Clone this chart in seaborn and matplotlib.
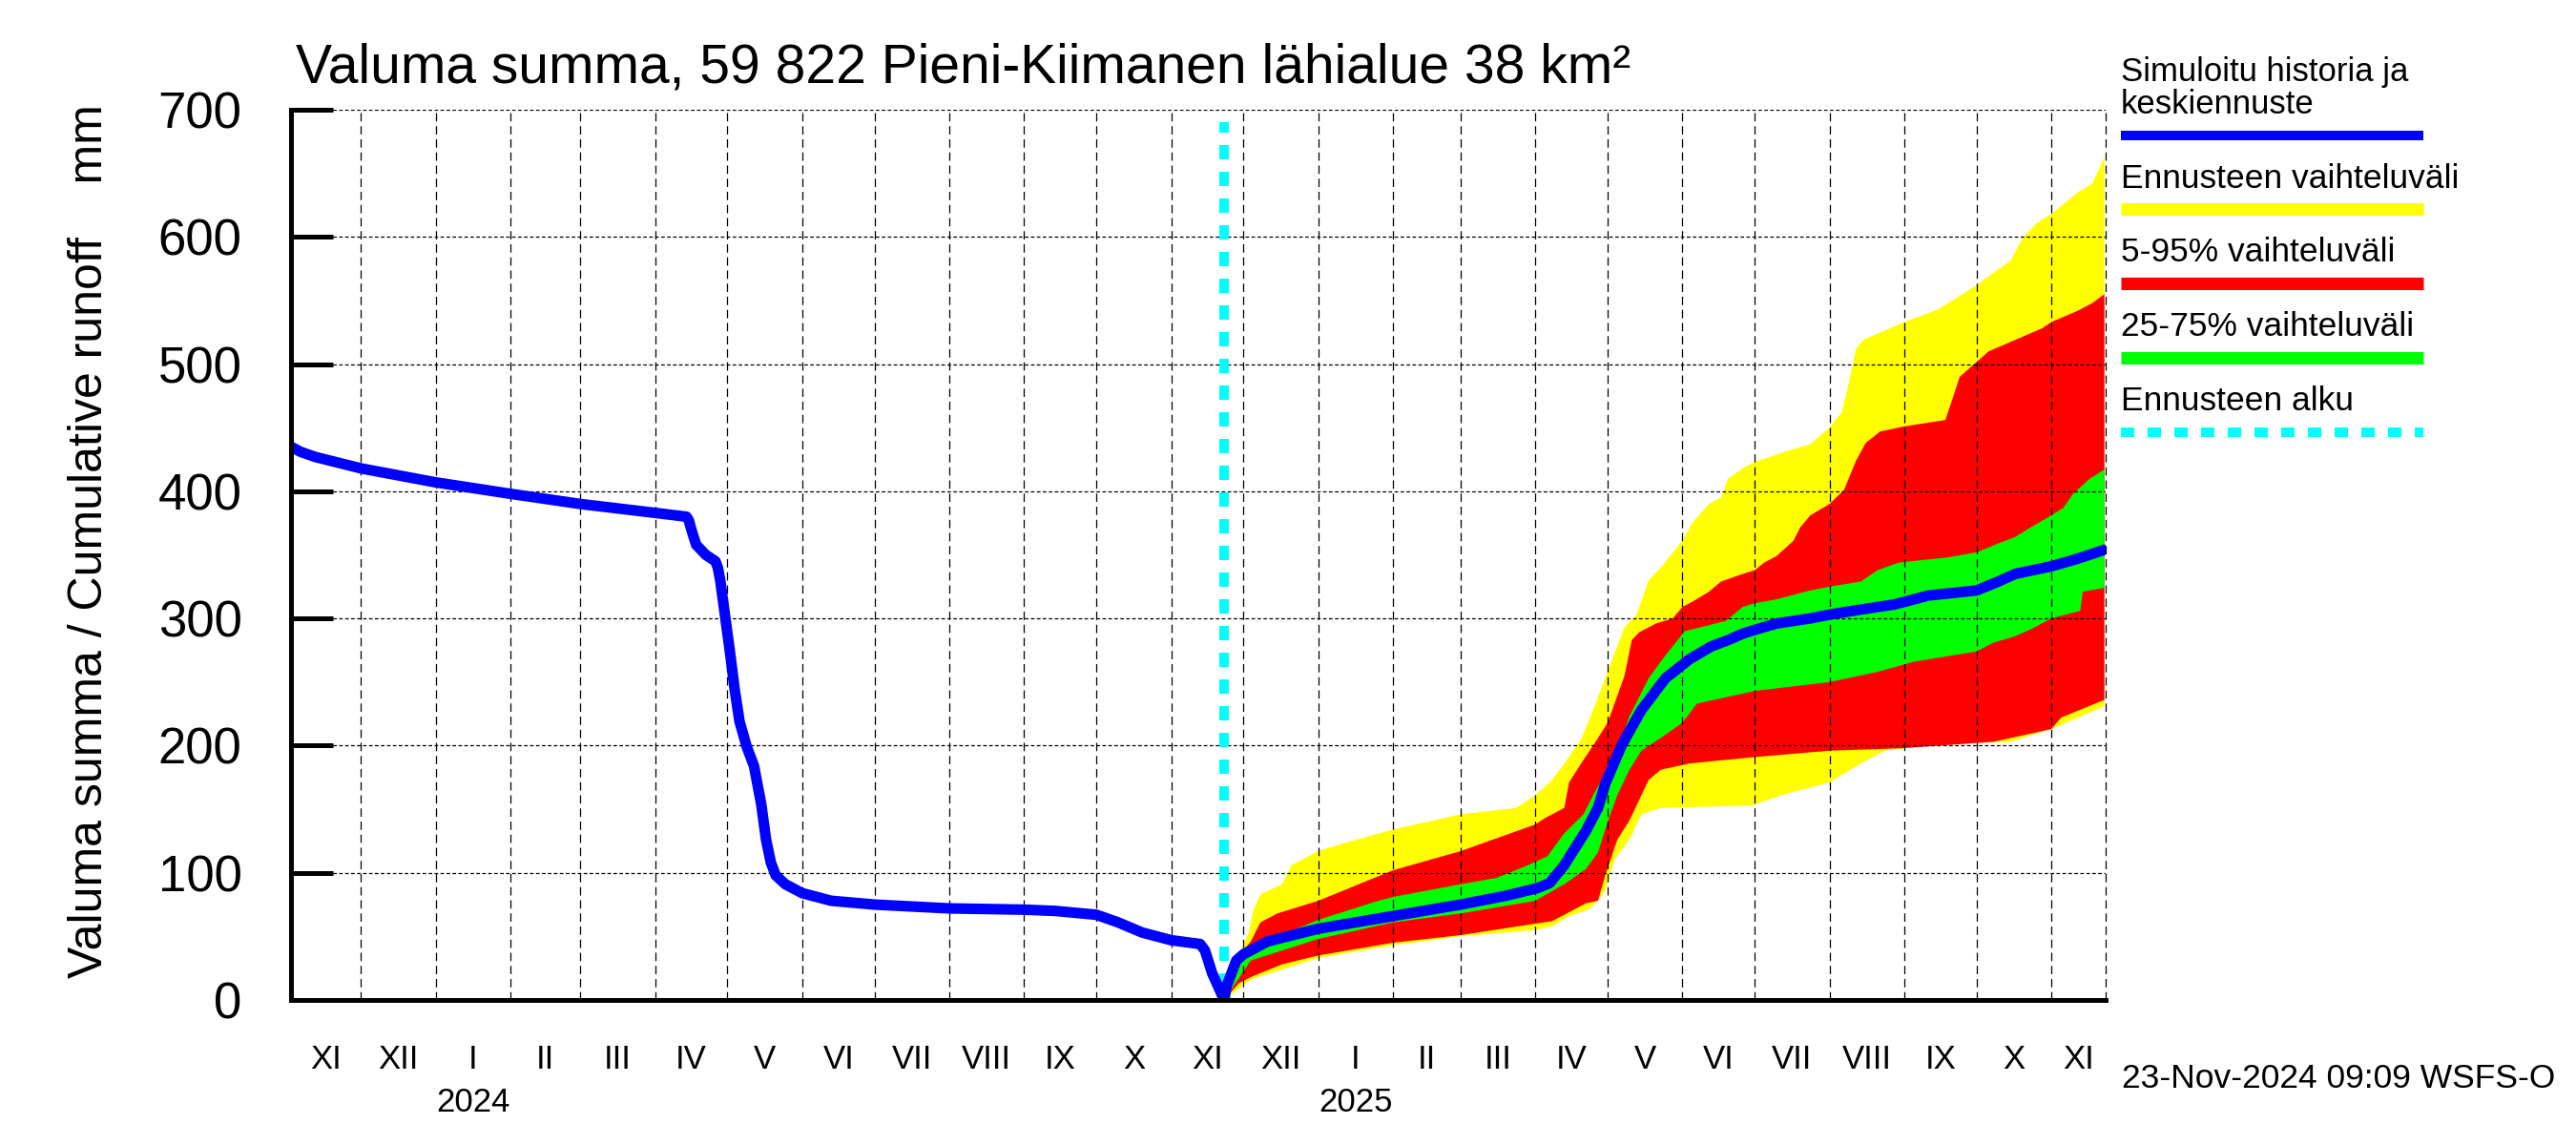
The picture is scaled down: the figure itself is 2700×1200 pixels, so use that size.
import numpy as np
import pandas as pd
import matplotlib
matplotlib.use('Agg')
import matplotlib.pyplot as plt
import matplotlib.dates as mdates
from matplotlib.lines import Line2D
import seaborn as sns

# ------- Data --------------------------------------------
hist_dates = ['2023-11-01', '2023-11-06', '2023-11-12', '2023-12-01', '2024-01-01',
              '2024-02-01', '2024-03-01', '2024-04-01', '2024-04-14', '2024-04-15',
              '2024-04-16', '2024-04-18', '2024-04-22', '2024-04-26', '2024-04-27',
              '2024-04-28', '2024-04-29', '2024-04-30', '2024-05-02', '2024-05-04',
              '2024-05-06', '2024-05-09', '2024-05-12', '2024-05-15', '2024-05-17',
              '2024-05-19', '2024-05-21', '2024-05-25', '2024-06-01', '2024-06-13',
              '2024-07-01', '2024-08-01', '2024-09-01', '2024-09-14', '2024-10-01',
              '2024-10-10', '2024-10-20', '2024-11-01', '2024-11-13', '2024-11-15',
              '2024-11-18', '2024-11-23']
hist_vals = [436, 431, 427, 418, 407, 398, 390, 383, 380, 377,
             370, 358, 350, 345, 340, 330, 316, 302, 274, 244,
             219, 199, 184, 154, 126, 108, 98, 91, 84, 78,
             75, 72, 71, 70, 67, 61, 53, 47, 44, 39,
             21, 0]

max_dates = ['2024-11-23', '2024-11-26', '2024-11-30', '2024-12-03', '2024-12-05',
             '2024-12-08', '2024-12-17', '2024-12-21', '2025-01-01', '2025-01-13',
             '2025-02-01', '2025-03-01', '2025-03-24', '2025-04-01', '2025-04-07',
             '2025-04-12', '2025-04-20', '2025-04-26', '2025-05-01', '2025-05-08',
             '2025-05-13', '2025-05-18', '2025-05-23', '2025-06-01', '2025-06-05',
             '2025-06-12', '2025-06-17', '2025-06-20', '2025-06-26', '2025-07-01',
             '2025-07-15', '2025-07-24', '2025-08-01', '2025-08-06', '2025-08-09',
             '2025-08-12', '2025-08-15', '2025-09-01', '2025-09-15', '2025-10-01',
             '2025-10-08', '2025-10-15', '2025-10-20', '2025-10-26', '2025-11-01',
             '2025-11-12', '2025-11-18', '2025-11-21', '2025-11-23']
max_vals = [0, 25, 40, 52, 70, 83, 91, 106, 117, 124,
            134, 146, 151, 161, 171, 183, 205, 233, 258, 293,
            303, 330, 340, 361, 375, 390, 395, 410, 418, 423,
            432, 437, 450, 462, 485, 512, 519, 533, 543, 562,
            572, 581, 599, 611, 618, 635, 642, 654, 663]

p95_dates = ['2024-11-23', '2024-11-27', '2024-12-04', '2024-12-08', '2024-12-15',
             '2025-01-01', '2025-02-01', '2025-03-01', '2025-04-01', '2025-04-05',
             '2025-04-13', '2025-04-15', '2025-04-20', '2025-04-26', '2025-05-01',
             '2025-05-08', '2025-05-11', '2025-05-14', '2025-05-21', '2025-05-28',
             '2025-06-01', '2025-06-05', '2025-06-12', '2025-06-17', '2025-06-26',
             '2025-07-01', '2025-07-05', '2025-07-10', '2025-07-17', '2025-07-20',
             '2025-07-24', '2025-08-01', '2025-08-07', '2025-08-12', '2025-08-16',
             '2025-08-22', '2025-09-01', '2025-09-18', '2025-09-20', '2025-09-24',
             '2025-09-30', '2025-10-06', '2025-10-17', '2025-10-28', '2025-11-01',
             '2025-11-12', '2025-11-18', '2025-11-23']
p95_vals = [0, 30, 46, 61, 68, 78, 102, 117, 138, 143,
            151, 171, 186, 203, 218, 255, 283, 289, 296, 300,
            309, 313, 321, 329, 335, 338, 344, 349, 361, 372,
            381, 390, 401, 424, 438, 447, 451, 456, 467, 490,
            500, 510, 519, 528, 533, 542, 548, 555]

p75_dates = ['2024-11-23', '2024-11-28', '2024-12-04', '2025-01-01', '2025-01-26',
             '2025-02-01', '2025-03-01', '2025-03-16', '2025-03-29', '2025-04-06',
             '2025-04-13', '2025-04-21', '2025-04-25', '2025-05-05', '2025-05-10',
             '2025-05-18', '2025-05-25', '2025-06-02', '2025-06-19', '2025-06-26',
             '2025-07-01', '2025-07-10', '2025-07-24', '2025-08-01', '2025-08-14',
             '2025-08-21', '2025-08-30', '2025-09-19', '2025-10-01', '2025-10-10',
             '2025-10-17', '2025-10-22', '2025-11-01', '2025-11-06', '2025-11-10',
             '2025-11-17', '2025-11-23']
p75_vals = [0, 33, 41, 63, 78, 81, 91, 96, 106, 113,
            131, 146, 161, 196, 223, 253, 271, 290, 298, 309,
            312, 315, 322, 325, 329, 338, 344, 348, 352, 359,
            364, 370, 381, 387, 398, 410, 417]

med_dates = ['2024-11-23', '2024-11-24', '2024-11-28', '2024-12-01', '2024-12-11',
             '2025-01-01', '2025-02-01', '2025-03-01', '2025-03-20', '2025-04-02',
             '2025-04-07', '2025-04-13', '2025-04-22', '2025-04-27', '2025-04-30',
             '2025-05-07', '2025-05-15', '2025-05-25', '2025-06-04', '2025-06-13',
             '2025-06-20', '2025-06-26', '2025-07-01', '2025-07-10', '2025-07-24',
             '2025-08-01', '2025-08-14', '2025-08-28', '2025-09-11', '2025-10-01',
             '2025-10-10', '2025-10-17', '2025-11-01', '2025-11-12', '2025-11-23']
med_vals = [0, 11, 31, 36, 46, 56, 66, 75, 82, 88,
            92, 106, 133, 151, 170, 201, 228, 253, 268, 278,
            283, 288, 291, 296, 300, 303, 307, 311, 318, 322,
            329, 335, 341, 347, 354]

p25_dates = ['2024-11-23', '2024-12-04', '2025-01-01', '2025-02-01', '2025-03-01',
             '2025-04-01', '2025-04-13', '2025-04-22', '2025-04-27', '2025-05-01',
             '2025-05-05', '2025-05-10', '2025-05-15', '2025-05-23', '2025-06-01',
             '2025-06-07', '2025-07-01', '2025-08-01', '2025-08-21', '2025-09-05',
             '2025-10-01', '2025-10-08', '2025-10-17', '2025-10-24', '2025-11-01',
             '2025-11-13', '2025-11-14', '2025-11-23']
p25_vals = [0, 31, 48, 61, 68, 78, 91, 103, 116, 140,
            161, 181, 196, 206, 218, 233, 243, 250, 258, 266,
            274, 281, 286, 292, 300, 306, 321, 324]

p05_dates = ['2024-11-23', '2024-11-29', '2024-12-04', '2024-12-17', '2025-01-01',
             '2025-02-01', '2025-03-01', '2025-04-01', '2025-04-08', '2025-04-22',
             '2025-04-27', '2025-04-30', '2025-05-05', '2025-05-10', '2025-05-18',
             '2025-05-23', '2025-06-04', '2025-07-01', '2025-08-01', '2025-09-01',
             '2025-10-08', '2025-11-01', '2025-11-05', '2025-11-23']
p05_vals = [0, 13, 18, 28, 35, 45, 51, 60, 62, 76,
            78, 98, 126, 141, 173, 181, 186, 191, 196, 198,
            203, 213, 222, 236]

min_dates = ['2024-11-23', '2024-12-04', '2025-01-01', '2025-02-01', '2025-03-01',
             '2025-04-01', '2025-04-08', '2025-04-15', '2025-04-23', '2025-04-27',
             '2025-04-30', '2025-05-04', '2025-05-10', '2025-05-15', '2025-05-23',
             '2025-06-30', '2025-07-12', '2025-08-01', '2025-08-14', '2025-08-24',
             '2025-09-13', '2025-10-15', '2025-11-01', '2025-11-23']
min_vals = [0, 16, 33, 43, 50, 55, 58, 66, 71, 78,
            86, 111, 126, 146, 151, 153, 161, 171, 186, 196,
            201, 203, 213, 231]

FORECAST_START = '2024-11-23'
MONTH_LABELS = ['I', 'II', 'III', 'IV', 'V', 'VI', 'VII', 'VIII', 'IX', 'X', 'XI', 'XII']
YEAR_LABELS = ['2024', '2025']
TITLE = 'Valuma summa, 59 822 Pieni-Kiimanen lähialue 38 km²'
YLABEL = 'Valuma summa / Cumulative runoff    mm'
STAMP = '23-Nov-2024 09:09 WSFS-O'
LEGEND = [('Simuloitu historia ja\nkeskiennuste', '#0000ff'),
          ('Ennusteen vaihteluväli', '#ffff00'),
          ('5-95% vaihteluväli', '#ff0000'),
          ('25-75% vaihteluväli', '#00ff00'),
          ('Ennusteen alku', '#00ffff')]

# ------- Style -------------------
sns.set_style('white')
plt.rcParams['font.family'] = ['Liberation Sans', 'DejaVu Sans']
plt.rcParams['text.color'] = 'black'
plt.rcParams['xtick.color'] = 'black'
plt.rcParams['ytick.color'] = 'black'

BLUE, YELLOW, RED, GREEN, CYAN = '#0000ff', '#ffff00', '#ff0000', '#00ff00', '#00ffff'

fig = plt.figure(figsize=(27, 12), dpi=100)
ax = fig.add_axes([0.11296, 0.12667, 0.70444, 0.7775])


def to_num(d):
    return mdates.date2num(pd.to_datetime(d))


def band(up_d, up_v, lo_d, lo_v, color):
    xs = np.concatenate([to_num(up_d), to_num(lo_d)[::-1]])
    ys = np.concatenate([np.asarray(up_v, float), np.asarray(lo_v, float)[::-1]])
    ax.fill(xs, ys, color=color, lw=0, zorder=1)


band(max_dates, max_vals, min_dates, min_vals, YELLOW)
band(p95_dates, p95_vals, p05_dates, p05_vals, RED)
band(p75_dates, p75_vals, p25_dates, p25_vals, GREEN)

fs = to_num([FORECAST_START])[0]
ax.plot([fs, fs], [10, 690], color=CYAN, lw=7.2, dashes=(1.5, 1.3), zorder=2.8)

sns.lineplot(x=to_num(hist_dates), y=hist_vals, ax=ax, color=BLUE, lw=8, zorder=3)
sns.lineplot(x=to_num(med_dates), y=med_vals, ax=ax, color=BLUE, lw=8, zorder=3)

x0 = to_num(['2023-11-02'])[0]
x1 = to_num(['2025-11-23 12:00'])[0]
ax.set_xlim(x0, x1)
ax.set_ylim(0, 700)
ax.set_xlabel('')
ax.set_ylabel('')

# axes, ticks, grid
ax.set_yticks(range(0, 701, 100))
ax.xaxis.set_major_locator(mdates.YearLocator())
ax.xaxis.set_minor_locator(mdates.MonthLocator())
ax.xaxis.set_major_formatter(plt.NullFormatter())
ax.xaxis.set_minor_formatter(plt.NullFormatter())
ax.tick_params(axis='x', which='both', direction='out', length=50, color='black')
ax.tick_params(axis='x', which='major', width=2.2)
ax.tick_params(axis='x', which='minor', width=0.8)
ax.tick_params(axis='y', direction='in', length=32, width=3.6, pad=37,
               labelsize=38, color='black', labelcolor='black', left=True)

ax.set_axisbelow(False)
ax.grid(axis='x', which='both', color='black', lw=0.9, ls=(0, (7, 4)))
ax.grid(axis='y', which='major', color='black', lw=0.9, ls=(0, (3, 2)))
ax.axvline(x1, color='black', lw=0.9, ls=(0, (7, 4)), clip_on=False, zorder=2.5)

for s in ['top', 'right']:
    ax.spines[s].set_visible(False)
for s in ['left', 'bottom']:
    ax.spines[s].set_color('black')
    ax.spines[s].set_linewidth(3.6)
    ax.spines[s].set_zorder(4)

# month and year labels
starts = pd.date_range('2023-11-01', '2025-12-01', freq='MS')
xtr = ax.get_xaxis_transform()
for a, b in zip(starts[:-1], starts[1:]):
    lo = max(mdates.date2num(a), x0)
    hi = min(mdates.date2num(b), x1)
    mid = (lo + hi) / 2
    ax.text(mid, -0.0772, MONTH_LABELS[a.month - 1], transform=xtr,
            ha='center', va='baseline', fontsize=25, color='black')
    if a.month == 1:
        ax.text(mid, -0.1254, YEAR_LABELS[a.year - 2024], transform=xtr,
                ha='center', va='baseline', fontsize=25, color='black')

# titles
fig.text(0.1148, 1 - 87 / 1200, TITLE, fontsize=41, ha='left', va='baseline')
fig.text(0.035, 0.527, YLABEL, fontsize=36, rotation=90, ha='center', va='center')
fig.text(2224 / 2700, 1 - 1140 / 1200, STAMP, fontsize=25.5, ha='left', va='baseline')

# legend
lx0, lx1 = 2223 / 2700, 2540 / 2700
fig.text(lx0, 1 - 85 / 1200, 'Simuloitu historia ja', fontsize=25, va='baseline')
fig.text(lx0, 1 - 119 / 1200, 'keskiennuste', fontsize=25, va='baseline')
legend_rows = [(197, 219, 9.4, None), (274, 297, 9.4, None),
               (352, 375, 9.4, None), (430, 453, 7.2, (1.4, 1.4))]
fig.add_artist(Line2D([lx0, lx1], [1 - 141.6 / 1200] * 2, color=LEGEND[0][1],
                      lw=7.2, solid_capstyle='butt'))
for (label, color), (ty, ly, lw, dash) in zip(LEGEND[1:], legend_rows):
    fig.text(lx0, 1 - ty / 1200, label, fontsize=25.5, va='baseline')
    line = Line2D([lx0, lx1], [1 - ly / 1200] * 2, color=color, lw=lw,
                  solid_capstyle='butt')
    if dash:
        line.set_dashes(dash)
    fig.add_artist(line)

fig.savefig('out.png', dpi=100)
print('Saved out.png')
